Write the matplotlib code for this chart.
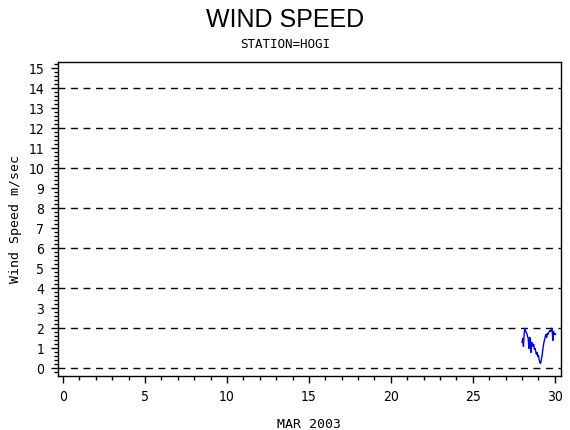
import numpy as np
import matplotlib
matplotlib.use("Agg")
import matplotlib.pyplot as plt
from matplotlib.ticker import MultipleLocator

# hourly wind speed, 28 Mar 00h .. 30 Mar 01h (day of month)
hours = np.arange(50)
speed = [1.3, 1.5, 1.1, 1.7, 2.0, 1.9, 1.8, 1.75, 1.6, 1.5,
         1.0, 1.55, 1.5, 0.8, 1.3, 1.25, 1.1, 1.2, 0.95, 1.0,
         0.85, 0.7, 0.8, 0.6, 0.65, 0.45, 0.3, 0.25, 0.4, 0.6,
         0.85, 1.1, 1.3, 1.45, 1.6, 1.7, 1.55, 1.75, 1.7, 1.8,
         1.85, 1.9, 1.85, 2.0, 1.95, 1.4, 1.85, 1.7, 1.75, 1.7]
day = 28 + hours / 24.0

grid_levels = [0, 2, 4, 6, 8, 10, 12, 14]

mono = ["DejaVu Sans Mono"]

fig = plt.figure(figsize=(5.7, 4.3), dpi=100)
ax = fig.add_axes([0.1018, 0.1256, 0.882, 0.7304])

for g in grid_levels:
    ax.axhline(g, color="black", lw=1, ls=(0, (5, 4)), zorder=1)

ax.plot(day, speed, color="#0000ff", lw=1, zorder=2)

ax.set_xlim(-0.3, 30.36)
ax.set_ylim(-0.38, 15.32)
ax.xaxis.set_major_locator(MultipleLocator(5))
ax.xaxis.set_minor_locator(MultipleLocator(1))
ax.yaxis.set_major_locator(MultipleLocator(1))
ax.yaxis.set_minor_locator(MultipleLocator(0.2))
ax.tick_params(which="major", direction="out", length=5, width=1, labelsize=10, pad=5)
ax.tick_params(which="minor", direction="out", length=3, width=1)
for lab in ax.get_xticklabels() + ax.get_yticklabels():
    lab.set_fontstretch("condensed")
for s in ax.spines.values():
    s.set_linewidth(1)

ax.set_ylabel("Wind Speed m/sec", family=mono, fontsize=9.5)
ax.yaxis.set_label_coords(-0.072, 0.5)
ax.set_xlabel("MAR 2003", family=mono, fontsize=9.5)
ax.xaxis.set_label_coords(0.5, -0.135)

fig.text(0.5, 0.953, "WIND SPEED", ha="center", va="center",
         family="Liberation Sans", fontsize=18)
fig.text(0.5, 0.897, "STATION=HOGI", ha="center", va="center",
         family=mono, fontsize=9)

fig.savefig("out.png", dpi=100)
